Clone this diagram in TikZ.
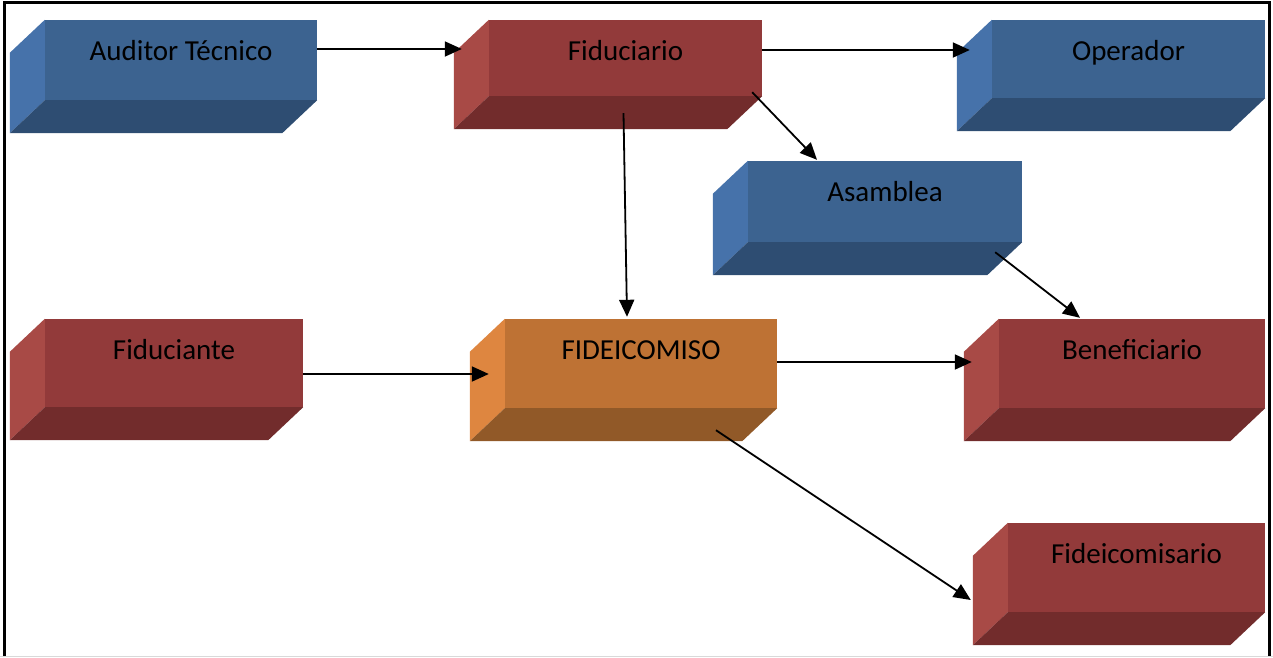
\documentclass[tikz,border=0pt]{standalone}
\usepackage{fontspec}
\setmainfont{Carlito}
\usetikzlibrary{arrows.meta}

\definecolor{bluefront}{HTML}{3C6390}
\definecolor{blueside}{HTML}{4672AA}
\definecolor{bluebottom}{HTML}{2E4D72}
\definecolor{redfront}{HTML}{923A3A}
\definecolor{redside}{HTML}{A84A46}
\definecolor{redbottom}{HTML}{722C2C}
\definecolor{orangefront}{HTML}{BE7234}
\definecolor{orangeside}{HTML}{DE8640}
\definecolor{orangebottom}{HTML}{915928}

\begin{document}
\begin{tikzpicture}[x=1pt, y=-1pt, font=\fontsize{29}{34}\selectfont]
  \def\depthx{35}
  \def\depthy{33}
  \tikzstyle{face} = [rectangle, inner sep = 0pt]
  \tikzstyle{blueface} = [face, fill=bluefront]
  \tikzstyle{redface} = [face, fill=redfront]
  \tikzstyle{orangeface} = [face, fill=orangefront]
  \tikzstyle{link} = [-{Triangle[length=17pt, width=15pt]}, line width=1.8pt]

  \useasboundingbox (0, 0) rectangle (1273, 657);

  % frame
  \draw[line width=3pt] (4, 657) -- (4, 2) -- (1269, 2) -- (1269, 657);
  \draw[black!15, line width=1pt] (0, 656) -- (1273, 656);

  % front faces
  \node[blueface, minimum width=272pt, minimum height=80pt] (auditor)
    [label={[anchor=base, yshift=-41pt]north:Auditor Técnico}] at (181, 60) {};
  \node[redface, minimum width=273pt, minimum height=76pt] (fiduciario)
    [label={[anchor=base, yshift=-41pt]north:Fiduciario}] at (625.5, 58) {};
  \node[blueface, minimum width=273pt, minimum height=78pt] (operador)
    [label={[anchor=base, yshift=-41pt]north:Operador}] at (1128.5, 59) {};
  \node[blueface, minimum width=274pt, minimum height=81pt] (asamblea)
    [label={[anchor=base, yshift=-41pt]north:Asamblea}] at (885, 201.5) {};
  \node[redface, minimum width=258pt, minimum height=88pt] (fiduciante)
    [label={[anchor=base, yshift=-41pt]north:Fiduciante}] at (174, 363) {};
  \node[orangeface, minimum width=272pt, minimum height=89pt] (fideicomiso)
    [label={[anchor=base, yshift=-41pt]north:FIDEICOMISO}] at (641, 363.5) {};
  \node[redface, minimum width=266pt, minimum height=89pt] (beneficiario)
    [label={[anchor=base, yshift=-41pt]north:Beneficiario}] at (1132, 363.5) {};
  \node[redface, minimum width=257pt, minimum height=89pt] (fideicomisario)
    [label={[anchor=base, yshift=-41pt]north:Fideicomisario}] at (1136.5, 567.5) {};

  % side and bottom faces
  \foreach \n/\s/\b in {auditor/blueside/bluebottom, fiduciario/redside/redbottom,
      operador/blueside/bluebottom, asamblea/blueside/bluebottom,
      fiduciante/redside/redbottom, fideicomiso/orangeside/orangebottom,
      beneficiario/redside/redbottom, fideicomisario/redside/redbottom} {
    \fill[\s] (\n.north west) -- ++(-\depthx, \depthy)
      -- ([shift={(-\depthx, \depthy)}]\n.south west) -- (\n.south west) -- cycle;
    \fill[\b] (\n.south west) -- (\n.south east)
      -- ([shift={(-\depthx, \depthy)}]\n.south east)
      -- ([shift={(-\depthx, \depthy)}]\n.south west) -- cycle;
  }

  % connectors
  \draw[link] ([yshift=11pt]auditor.east) -- ([xshift=-27pt, yshift=9pt]fiduciario.west);
  \draw[link] ([yshift=8pt]fiduciario.east) -- ([xshift=-22pt, yshift=9pt]operador.west);
  \draw[link] ([xshift=-10pt, yshift=4pt]fiduciario.south east) -- ([xshift=-68pt, yshift=1pt]asamblea.north);
  \draw[link] ([xshift=-2pt, yshift=-17pt]fiduciario.south) -- ([xshift=-14pt, yshift=2pt]fideicomiso.north);
  \draw[link] ([xshift=-27pt, yshift=-10pt]asamblea.south east) -- ([xshift=-52pt, yshift=1pt]beneficiario.north);
  \draw[link] ([yshift=-11pt]fiduciante.east) -- ([xshift=-16pt, yshift=-10.5pt]fideicomiso.west);
  \draw[link] ([yshift=1.5pt]fideicomiso.east) -- ([xshift=-27pt, yshift=1.5pt]beneficiario.west);
  \draw[link] ([xshift=75pt, yshift=-22pt]fideicomiso.south) -- ([xshift=-37pt, yshift=-32.5pt]fideicomisario.west);

\end{tikzpicture}
\end{document}
